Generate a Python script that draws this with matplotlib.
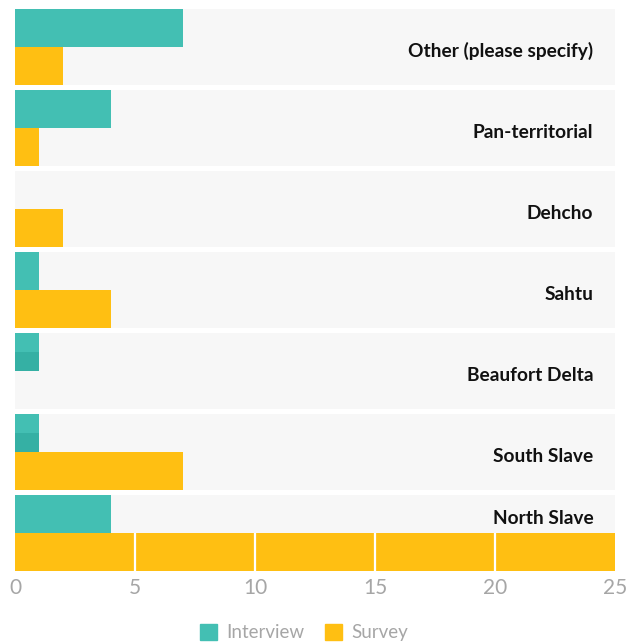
import matplotlib.pyplot as plt
from matplotlib.patches import Patch

categories = ["Other (please specify)", "Pan-territorial", "Dehcho", "Sahtu",
              "Beaufort Delta", "South Slave", "North Slave"]
interview = [7, 4, 0, 1, 1, 1, 4]
survey = [2, 1, 2, 4, 0, 7, 25]
# interview bars drawn with a darker lower half
shaded = [False, False, False, False, True, True, False]
xticks = [0, 5, 10, 15, 20, 25]

TEAL = "#43BFB3"
TEAL_DARK = "#35B0A4"
GOLD = "#FFBF12"
BAND = "#F7F7F7"
GREY = "#A6A6A6"

fig = plt.figure(figsize=(6.26, 6.44), dpi=100)
ax = fig.add_axes([15 / 626, 1 - 571 / 644, 600 / 626, 562 / 644])

band_h = 76 / 81
bar_h = band_h / 2
n = len(categories)
xmax = xticks[-1]

for i, name in enumerate(categories):
    ax.barh(i, xmax, height=band_h, color=BAND, zorder=0)
    ax.barh(i - bar_h / 2, interview[i], height=bar_h, color=TEAL, zorder=2)
    if shaded[i]:
        ax.barh(i - bar_h / 4, interview[i], height=bar_h / 2,
                color=TEAL_DARK, zorder=2.5)
    ax.barh(i + bar_h / 2, survey[i], height=bar_h, color=GOLD, zorder=2)
    # full-width survey bar: white grid breaks show through it
    if survey[i] >= xmax:
        ax.vlines(xticks[1:-1], i, i + bar_h, color="white", lw=1.6, zorder=3)
    ty = i + 0.05 if survey[i] < 20 else i - 0.18
    ax.text(24.1, ty, name, ha="right", va="center", fontsize=13.8,
            fontweight="bold", family="Lato", color="#111111", zorder=4)

ax.set_xlim(0, xmax)
ax.set_ylim(n - 1 + band_h / 2, -band_h / 2)
ax.set_xticks(xticks)
ax.set_yticks([])
ax.tick_params(axis="x", length=0, pad=5, labelsize=15, labelcolor=GREY)
for lab in ax.get_xticklabels():
    lab.set_family("Lato")
for s in ax.spines.values():
    s.set_visible(False)

handles = [Patch(color=TEAL, label="Interview"), Patch(color=GOLD, label="Survey")]
leg = fig.legend(handles=handles, loc="lower center", bbox_to_anchor=(0.485, -0.022),
                 ncol=2, frameon=False, handlelength=0.95, handleheight=0.95,
                 handletextpad=0.45, columnspacing=1.1,
                 prop={"family": "Lato", "size": 13.5})
for t in leg.get_texts():
    t.set_color(GREY)

fig.savefig("out.png", dpi=100)
